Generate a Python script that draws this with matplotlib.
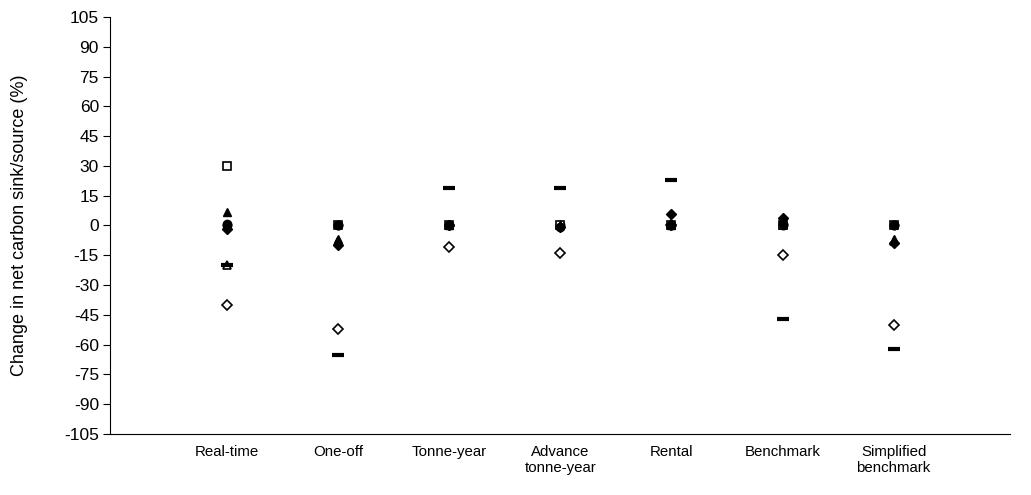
import matplotlib
matplotlib.use("Agg")
import matplotlib.pyplot as plt

plt.rcParams['font.family'] = ['Liberation Sans', 'DejaVu Sans']

categories = ["Real-time", "One-off", "Tonne-year", "Advance\ntonne-year",
              "Rental", "Benchmark", "Simplified\nbenchmark"]
yticks = list(range(-105, 106, 15))

open_square = [30, 0, 0, 0, 0, 0, 0]
filled_triangle = [7, -7, 0, 0, 0, 3, -7]
filled_circle = [1, 0, 0, -1, 0, 1, 0]
filled_diamond = [-2, -10, 0, -1, 6, 4, -9]
open_triangle = [-20, -8, 0, 0, 0, 0, -8]
open_circle = [0, 0, 0, 0, 0, 0, 0]
open_diamond = [-40, -52, -11, -14, 0, -15, -50]
dash = [-20, -65, 19, 19, 23, -47, -62]

x = list(range(1, len(categories) + 1))

fig = plt.figure(figsize=(10.31, 4.95), dpi=100)
ax = fig.add_axes([0.1067, 0.1232, 0.8733, 0.8425])

ax.plot(x, open_diamond, linestyle='none', marker='D', ms=5, mfc='white', mec='black', mew=1.2)
ax.plot(x, open_triangle, linestyle='none', marker='^', ms=6, mfc='white', mec='black', mew=1.2)
ax.plot(x, open_circle, linestyle='none', marker='o', ms=6, mfc='white', mec='black', mew=1.2)
ax.plot(x, open_square, linestyle='none', marker='s', ms=6, mfc='white', mec='black', mew=1.2)
ax.plot(x, filled_circle, linestyle='none', marker='o', ms=6, mfc='black', mec='black')
ax.plot(x, filled_diamond, linestyle='none', marker='D', ms=5, mfc='black', mec='black')
ax.plot(x, filled_triangle, linestyle='none', marker='^', ms=6, mfc='black', mec='black')
ax.plot(x, dash, linestyle='none', marker='_', ms=8, mec='black', mew=3)

ax.set_xlim(-0.05, 8.05)
ax.set_ylim(-105, 105)
ax.set_yticks(yticks)
ax.set_yticklabels([str(v) for v in yticks], fontsize=12.5)
ax.set_xticks(x)
ax.set_xticklabels(categories, fontsize=10.8)
ax.tick_params(axis='x', length=0, pad=8)
ax.tick_params(axis='y', length=5, width=0.8, direction='out', pad=3)
ax.set_ylabel("Change in net carbon sink/source (%)", fontsize=13, labelpad=26)
for s in ['top', 'right']:
    ax.spines[s].set_visible(False)
for s in ['left', 'bottom']:
    ax.spines[s].set_linewidth(0.8)

fig.savefig("out.png", dpi=100)
